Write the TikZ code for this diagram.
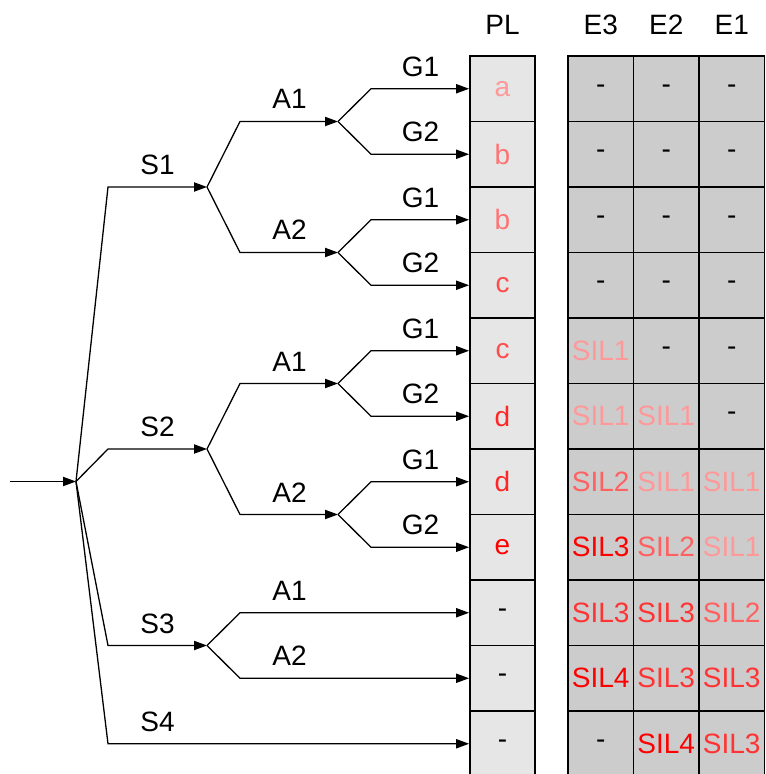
\documentclass[tikz,border=0pt]{standalone}
\usepackage{fontspec}
\setmainfont{Liberation Sans}
\usetikzlibrary{arrows.meta}
\definecolor{cellgrayA}{HTML}{E6E6E6}
\definecolor{cellgrayB}{HTML}{CCCCCC}
\colorlet{cA}{red!40}
\colorlet{cB}{red!55}
\colorlet{cC}{red!70}
\colorlet{cD}{red!85}
\colorlet{cE}{red}
\colorlet{sA}{red!40}
\colorlet{sB}{red!62}
\colorlet{sC}{red!80}
\colorlet{sD}{red}
\colorlet{cN}{black}
\begin{document}
\begin{tikzpicture}[x=0.5pt,y=-0.5pt,
  every node/.style={font=\fontsize{14}{16}\selectfont},
  arr/.style={line width=0.65pt,-{Triangle[length=6.5pt,width=4.6pt]}},
  lab/.style={anchor=base,inner sep=0pt},
  plcell/.style={draw=black,line width=0.9pt,fill=cellgrayA,minimum width=32.5pt,minimum height=32.75pt,inner sep=0pt},
  ecell/.style={draw=black,line width=0.9pt,fill=cellgrayB,minimum width=32.75pt,minimum height=32.75pt,inner sep=0pt}]
\useasboundingbox (0,0) rectangle (765,774);
% headers
\node[lab] (hPL) at (502.5,35) {PL};
\node[lab] (hE3) at (600.75,35) {E3};
\node[lab] (hE2) at (666.25,35) {E2};
\node[lab] (hE1) at (731.75,35) {E1};
% PL column
\foreach \i/\t/\c in {1/a/cA,2/b/cB,3/b/cB,4/c/cC,5/c/cC,6/d/cD,7/d/cD,8/e/cE,9/-/cN,10/-/cN,11/-/cN}{
  \pgfmathsetmacro\yc{56+65.5*(\i-0.5)}
  \node[plcell,text=\c] (pl\i) at (502.5,\yc) {\t};
}
% E columns
\foreach \i/\a/\ca/\b/\cb/\d/\cd in {
  1/-/cN/-/cN/-/cN,
  2/-/cN/-/cN/-/cN,
  3/-/cN/-/cN/-/cN,
  4/-/cN/-/cN/-/cN,
  5/SIL1/sA/-/cN/-/cN,
  6/SIL1/sA/SIL1/sA/-/cN,
  7/SIL2/sB/SIL1/sA/SIL1/sA,
  8/SIL3/sD/SIL2/sB/SIL1/sA,
  9/SIL3/sC/SIL3/sC/SIL2/sB,
  10/SIL4/sD/SIL3/sC/SIL3/sC,
  11/-/cN/SIL4/sD/SIL3/sC}{
  \pgfmathsetmacro\yc{56+65.5*(\i-0.5)}
  \node[ecell,text=\ca] (ethree\i) at (600.75,\yc) {\a};
  \node[ecell,text=\cb] (etwo\i) at (666.25,\yc) {\b};
  \node[ecell,text=\cd] (eone\i) at (731.75,\yc) {\d};
}
% tree points
\coordinate (in) at (10,481.5);
\coordinate (root) at (76,481.5);
\coordinate (s1) at (207,187);
\coordinate (s2) at (207,449);
\coordinate (s3) at (207,645.5);
\coordinate (a11) at (338,121.5);
\coordinate (a12) at (338,252.5);
\coordinate (a21) at (338,383.5);
\coordinate (a22) at (338,514.5);
\draw[arr] (in) -- (root);
% S branches
\draw[arr] (root) -- (108,187) -- (s1);
\draw[arr] (root) -- (108,449) -- (s2);
\draw[arr] (root) -- (108,645.5) -- (s3);
\draw[arr] (root) -- (108,743.75) -- (pl11.west);
\node[lab] (lS1) at (157.5,174.5) {S1};
\node[lab] (lS2) at (157.5,436.5) {S2};
\node[lab] (lS3) at (157.5,633) {S3};
\node[lab] (lS4) at (157.5,731.25) {S4};
% A branches
\draw[arr] (s1) -- (240,121.5) -- (a11);
\draw[arr] (s1) -- (240,252.5) -- (a12);
\draw[arr] (s2) -- (240,383.5) -- (a21);
\draw[arr] (s2) -- (240,514.5) -- (a22);
\draw[arr] (s3) -- (240,612.75) -- (pl9.west);
\draw[arr] (s3) -- (240,678.25) -- (pl10.west);
\node[lab] (lA11) at (289.5,109) {A1};
\node[lab] (lA12) at (289.5,240) {A2};
\node[lab] (lA21) at (289.5,371) {A1};
\node[lab] (lA22) at (289.5,502) {A2};
\node[lab] (lA31) at (289.5,600.25) {A1};
\node[lab] (lA32) at (289.5,665.75) {A2};
% G branches
\draw[arr] (a11) -- (371,88.75) -- (pl1.west);
\draw[arr] (a11) -- (371,154.25) -- (pl2.west);
\draw[arr] (a12) -- (371,219.75) -- (pl3.west);
\draw[arr] (a12) -- (371,285.25) -- (pl4.west);
\draw[arr] (a21) -- (371,350.75) -- (pl5.west);
\draw[arr] (a21) -- (371,416.25) -- (pl6.west);
\draw[arr] (a22) -- (371,481.75) -- (pl7.west);
\draw[arr] (a22) -- (371,547.25) -- (pl8.west);
\foreach \k/\y/\g in {1/88.75/G1,2/154.25/G2,3/219.75/G1,4/285.25/G2,5/350.75/G1,6/416.25/G2,7/481.75/G1,8/547.25/G2}{
  \node[lab] (lG\k) at (420.5,\y-12.5) {\g};
}
\end{tikzpicture}
\end{document}
